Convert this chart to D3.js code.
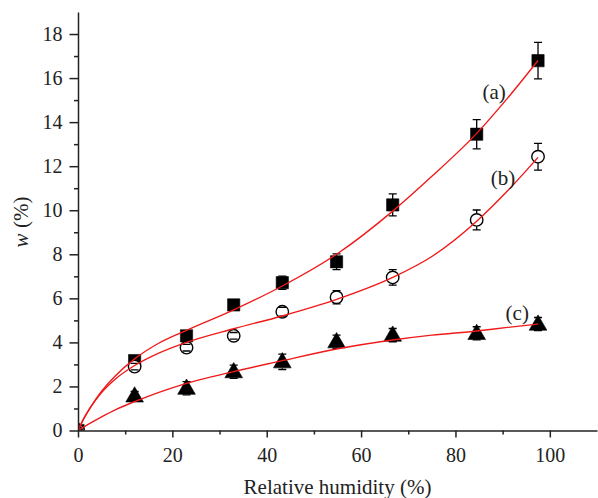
<!DOCTYPE html>
<html>
<head>
<meta charset="utf-8">
<script src="https://cdn.jsdelivr.net/npm/d3@7"></script>
<style>
  body { margin: 0; background: #fff; }
  text { font-family: "Liberation Serif", "DejaVu Serif", serif; fill: #222; }
</style>
</head>
<body>
<div id="chart"></div>
<script>
// Relative humidity of the measured points (%)
const rh = [0, 12, 23, 33, 43.3, 54.8, 66.7, 84.5, 97.5];

// Moisture content w (%) and error bars
const wA = [0, 3.17, 4.30, 5.70, 6.71, 7.66, 10.24, 13.45, 16.79];
const errA = [0, 0.15, 0.2, 0.2, 0.3, 0.36, 0.5, 0.66, 0.83];
const wB = [0, 2.90, 3.76, 4.30, 5.39, 6.05, 6.95, 9.56, 12.43];
const errB = [0, 0.15, 0.15, 0.15, 0.2, 0.3, 0.35, 0.45, 0.61];
const wC = [0, 1.57, 1.92, 2.67, 3.12, 4.03, 4.33, 4.41, 4.83];
const errC = [0, 0.2, 0.3, 0.3, 0.35, 0.3, 0.3, 0.3, 0.3];

// Fitted curves
const fitRh = [0, 1, 2.5, 5, 8, 12, 17, 23, 33, 43.3, 54.8, 66.7, 75, 84.5, 91, 97.5];
const fitA = [0, 0.45, 1.0, 1.78, 2.5, 3.25, 3.95, 4.55, 5.48, 6.56, 8.0, 9.96, 11.54, 13.49, 15.08, 16.8];
const fitB = [0, 0.45, 1.0, 1.72, 2.35, 2.95, 3.5, 4.0, 4.62, 5.2, 5.95, 6.95, 7.9, 9.5, 10.87, 12.4];
const fitC = [0, 0.13, 0.32, 0.62, 0.95, 1.31, 1.72, 2.14, 2.67, 3.17, 3.7, 4.11, 4.33, 4.52, 4.68, 4.83];

const labels = ["(a)", "(b)", "(c)"];
const xTicks = [0, 20, 40, 60, 80, 100];
const yTicks = [0, 2, 4, 6, 8, 10, 12, 14, 16, 18];

const W = 598, H = 498;
const margin = {top: 12, right: 1, bottom: 67.5, left: 78};

const svg = d3.select("#chart").append("svg")
    .attr("width", W)
    .attr("height", H);

const x = d3.scaleLinear().domain([0, 110]).range([margin.left, W - margin.right]);
const y = d3.scaleLinear().domain([0, 19]).range([H - margin.bottom, margin.top]);

svg.append("clipPath").attr("id", "plot")
    .append("rect")
    .attr("x", x(0)).attr("y", y(19))
    .attr("width", x(110) - x(0)).attr("height", y(0) - y(19));

const series = [
    {w: wA, err: errA, fit: fitA, shape: "square", label: labels[0]},
    {w: wB, err: errB, fit: fitB, shape: "circle", label: labels[1]},
    {w: wC, err: errC, fit: fitC, shape: "triangle", label: labels[2]}
];

const g = svg.append("g").attr("clip-path", "url(#plot)");

// markers
series.forEach(s => {
    const pts = rh.map((r, i) => ({r, w: s.w[i], e: s.err[i]}));
    const sym = s.shape === "square" ? d3.symbolSquare : s.shape === "circle" ? d3.symbolCircle : d3.symbolTriangle;
    const size = s.shape === "square" ? 150 : s.shape === "circle" ? 122 : 135;
    const half = s.shape === "square" ? 6 : s.shape === "circle" ? 6.5 : 6.5;

    g.selectAll(null)
        .data(pts)
        .enter()
        .append("path")
        .attr("d", d3.symbol().type(sym).size(size))
        .attr("transform", d => `translate(${x(d.r)},${y(d.w) + (s.shape === "triangle" ? 1 : 0)})`)
        .attr("fill", s.shape === "circle" ? "#fff" : "#000")
        .attr("stroke", "#000")
        .attr("stroke-width", s.shape === "circle" ? 1.4 : 0.6);

    // error bars drawn from the marker edge outward, with caps
    const eb = g.selectAll(null)
        .data(pts.filter(d => d.e > 0))
        .enter()
        .append("g")
        .attr("stroke", "#000")
        .attr("stroke-width", 1.3);
    [-1, 1].forEach(dir => {
        eb.append("line")
            .attr("x1", d => x(d.r)).attr("x2", d => x(d.r))
            .attr("y1", d => y(d.w) - dir * half)
            .attr("y2", d => Math.abs(y(d.w + dir * d.e) - y(d.w)) > half ? y(d.w + dir * d.e) : y(d.w) - dir * half);
        eb.append("line")
            .attr("x1", d => x(d.r) - 4).attr("x2", d => x(d.r) + 4)
            .attr("y1", d => y(d.w + dir * d.e))
            .attr("y2", d => y(d.w + dir * d.e));
    });
});

// fitted curves
const line = d3.line()
    .x(d => x(d[0]))
    .y(d => y(d[1]))
    .curve(d3.curveMonotoneX);

series.forEach(s => {
    g.append("path")
        .datum(fitRh.map((r, i) => [r, s.fit[i]]))
        .attr("d", line)
        .attr("fill", "none")
        .attr("stroke", "#f01a1a")
        .attr("stroke-width", 1.4);
});

// curve labels
const labelPos = [[88.2, 15.37], [90.1, 11.5], [93.1, 5.33]];
svg.selectAll(".lab")
    .data(series)
    .enter()
    .append("text")
    .attr("x", (d, i) => x(labelPos[i][0]))
    .attr("y", (d, i) => y(labelPos[i][1]))
    .attr("text-anchor", "middle")
    .attr("dy", "0.35em")
    .style("font-size", "21px")
    .text(d => d.label);

// axes
svg.append("g")
    .attr("transform", `translate(0,${y(0)})`)
    .call(d3.axisBottom(x).tickValues(xTicks).tickSize(7).tickPadding(10).tickSizeOuter(0));
svg.append("g")
    .attr("transform", `translate(0,${y(0)})`)
    .call(d3.axisBottom(x).tickValues(d3.range(10, 110, 20)).tickSize(4).tickFormat("").tickSizeOuter(0))
    .select(".domain").remove();

svg.append("g")
    .attr("transform", `translate(${x(0)},0)`)
    .call(d3.axisLeft(y).tickValues(yTicks).tickSize(8.5).tickPadding(7).tickSizeOuter(0));
svg.append("g")
    .attr("transform", `translate(${x(0)},0)`)
    .call(d3.axisLeft(y).tickValues(d3.range(1, 19, 2)).tickSize(4).tickFormat("").tickSizeOuter(0))
    .select(".domain").remove();

svg.selectAll(".domain, .tick line")
    .attr("stroke", "#222")
    .attr("stroke-width", 1.5);
svg.selectAll(".tick text")
    .style("font-size", "20px")
    .style("font-family", "'Liberation Serif', serif")
    .attr("fill", "#222");

// axis titles
svg.append("text")
    .attr("x", 337.5)
    .attr("y", 494)
    .attr("text-anchor", "middle")
    .style("font-size", "21px")
    .text("Relative humidity (%)");

const yt = svg.append("text")
    .attr("transform", "translate(28,222) rotate(-90)")
    .attr("text-anchor", "middle")
    .style("font-size", "21px");
yt.append("tspan").style("font-style", "italic").text("w");
yt.append("tspan").text(" (%)");
</script>
</body>
</html>
